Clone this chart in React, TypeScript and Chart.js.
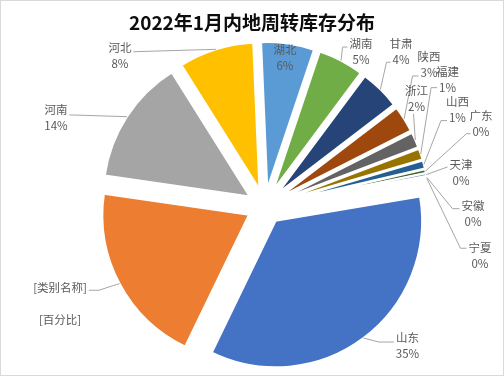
import React, { useEffect, useRef } from "react";
import { Chart, registerables } from "chart.js";

Chart.register(...registerables);

// ---------- data ----------
const TITLE = "2022年1月内地周转库存分布";
const categories = ["山东", "[类别名称]", "河南", "河北", "湖北", "湖南", "甘肃", "陕西", "浙江", "福建", "山西", "广东", "天津", "安徽", "宁夏"];
const values = [34.6, 20.0, 13.7, 8.2, 5.8, 5.0, 4.4, 2.9, 1.7, 1.2, 0.9, 0.4, 0.3, 0.2, 0.1];
const PLACEHOLDER_PCT = "[百分比]";

// ---------- styles / layout ----------
const colors = ["#4472C4", "#ED7D31", "#A5A5A5", "#FFC000", "#5B9BD5", "#70AD47", "#264478", "#9E480E", "#636363", "#997300", "#255E91", "#43682B", "#698ED0", "#F1975A", "#B7B7B7"];
const W = 504;
const H = 376;
const PAD_LEFT = 25.6;
const PAD_TOP = 36.8;
const RADIUS = 146.5;
const EXPLODE = 18;
const ROTATION = 80.5;
const LABEL_FONT = '11.5px "Liberation Sans Narrow", "Noto Sans CJK SC", sans-serif';
const LABEL_COLOR = "#595959";
const LEADER_COLOR = "#A6A6A6";
const LINE_GAP = 16;

// label placement relative to the slice's outer anchor point; leader attachment
type LL = { dx: number; dy: number; side?: string; line?: number; ay?: number; h?: number; gap?: number; inside?: boolean };
const LABEL_LAYOUT: LL[] = [
  { dx: 44, dy: 0, side: "l", line: 0, ay: 4, h: 15 },
  { dx: -59.5, dy: 3.7, side: "r", line: 0, ay: 3, h: 10, gap: 32 },
  { dx: -71, dy: -6.7, side: "r", line: 0, ay: 5, h: 3 },
  { dx: -96, dy: -1.3, side: "r", line: 0, ay: 3.7, h: 0 },
  { dx: -3, dy: 6.5, inside: true },
  { dx: 20, dy: -16.6, side: "l", line: 0, ay: 3, h: 5 },
  { dx: 20.6, dy: -46.1, side: "l", line: 1, ay: 3, h: 4 },
  { dx: 24.9, dy: -61.9, side: "l", line: 1, ay: 3, h: 6 },
  { dx: 1.2, dy: -49.3, side: "b" },
  { dx: 26.8, dy: -82.4, side: "l", line: 1, ay: 0, h: 6 },
  { dx: 33.6, dy: -62.9, side: "l", line: 1, ay: 3, h: 6 },
  { dx: 55.5, dy: -55.4, side: "l", line: 1, ay: 2, h: 4 },
  { dx: 34.8, dy: -9.7, side: "l", line: 0, ay: 2, h: 0 },
  { dx: 46.3, dy: 28.5, side: "l", line: 0, ay: 3, h: 7 },
  { dx: 53, dy: 68.5, side: "l", line: 0, ay: 1, h: 6 },
];

const total = values.reduce((a, b) => a + b, 0);
const pctLabels = values.map((v, i) =>
  categories[i].startsWith("[") ? PLACEHOLDER_PCT : Math.round((v / total) * 100) + "%"
);

const backgroundPlugin = {
  id: "bgBorder",
  beforeDraw(chart: any) {
    const ctx = chart.ctx;
    ctx.save();
    ctx.fillStyle = "#ffffff";
    ctx.fillRect(0, 0, W, H);
    ctx.strokeStyle = "#D9D9D9";
    ctx.lineWidth = 1;
    ctx.strokeRect(0.5, 0.5, W - 1, H - 1);
    ctx.restore();
  },
};

// Chart.js grows (and narrows) exploded slices by their offset; undo that so
// every exploded slice keeps the same radius and its true angular size.
const explodeFixPlugin = {
  id: "explodeFix",
  afterDatasetUpdate(chart: any, args: any) {
    args.meta.data.forEach((el: any) => {
      const fix = 1 - Math.sin(Math.min(Math.PI, el.circumference || 0));
      const off = EXPLODE * fix;
      el.outerRadius = RADIUS - off;
      const k = off / (2 * Math.PI * RADIUS);
      el.startAngle -= k;
      el.endAngle += k;
    });
  },
};

const titleAndLabelsPlugin = {
  id: "titleLabels",
  afterDraw(chart: any) {
    const ctx = chart.ctx;
    ctx.save();
    ctx.fillStyle = "#0D0D0D";
    ctx.font = 'bold 19px "Noto Sans CJK SC", sans-serif';
    ctx.textAlign = "center";
    ctx.textBaseline = "middle";
    ctx.fillText(TITLE, W / 2, 22.5);

    const meta = chart.getDatasetMeta(0);
    ctx.font = LABEL_FONT;
    meta.data.forEach((el: any, i: number) => {
      const lay = LABEL_LAYOUT[i];
      const mid = (el.startAngle + el.endAngle) / 2;
      const ax = el.x + Math.cos(mid) * (EXPLODE + RADIUS);
      const ay = el.y + Math.sin(mid) * (EXPLODE + RADIUS);
      const lx = ax + lay.dx;
      const ly = ay + lay.dy;
      const gap = lay.gap || LINE_GAP;
      const lines = [categories[i], pctLabels[i]];

      if (!lay.inside) {
        ctx.strokeStyle = LEADER_COLOR;
        ctx.lineWidth = 1;
        ctx.beginPath();
        if (lay.side === "b") {
          const bx = lx - 3;
          const by = ly + gap + 7;
          ctx.moveTo(ax, ay);
          ctx.lineTo(bx, by);
        } else {
          const li = lay.line || 0;
          const w = ctx.measureText(lines[li]).width;
          const yy = ly + li * gap + (lay.ay || 0);
          const sgn = lay.side === "l" ? -1 : 1;
          const tx = lx + sgn * (w / 2 + 2);
          const ex = tx + sgn * (lay.h || 0);
          ctx.moveTo(ax, ay);
          ctx.lineTo(ex, yy);
          ctx.lineTo(tx, yy);
        }
        ctx.stroke();
      }

      ctx.fillStyle = LABEL_COLOR;
      ctx.textAlign = "center";
      ctx.textBaseline = "middle";
      ctx.fillText(lines[0], lx, ly);
      ctx.fillText(lines[1], lx, ly + gap);
    });
    ctx.restore();
  },
};

export default function App() {
  const ref = useRef<HTMLCanvasElement | null>(null);

  useEffect(() => {
    document.body.style.margin = "0";
    if (!ref.current) return;
    const chart = new Chart(ref.current, {
      type: "pie",
      data: {
        labels: categories,
        datasets: [
          {
            data: values,
            backgroundColor: colors,
            borderColor: "#ffffff",
            borderWidth: 2,
            offset: EXPLODE * 4,
            radius: RADIUS,
            clip: false,
          } as any,
        ],
      },
      options: {
        animation: false,
        responsive: false,
        devicePixelRatio: 1,
        rotation: ROTATION,
        layout: { padding: { left: PAD_LEFT, top: PAD_TOP, right: 0, bottom: 0 } },
        plugins: {
          legend: { display: false },
          tooltip: { enabled: false },
          title: { display: false },
        },
      } as any,
      plugins: [backgroundPlugin, explodeFixPlugin, titleAndLabelsPlugin],
    });
    return () => chart.destroy();
  }, []);

  return <canvas ref={ref} width={W} height={H} style={{ display: "block", width: W, height: H }} />;
}
